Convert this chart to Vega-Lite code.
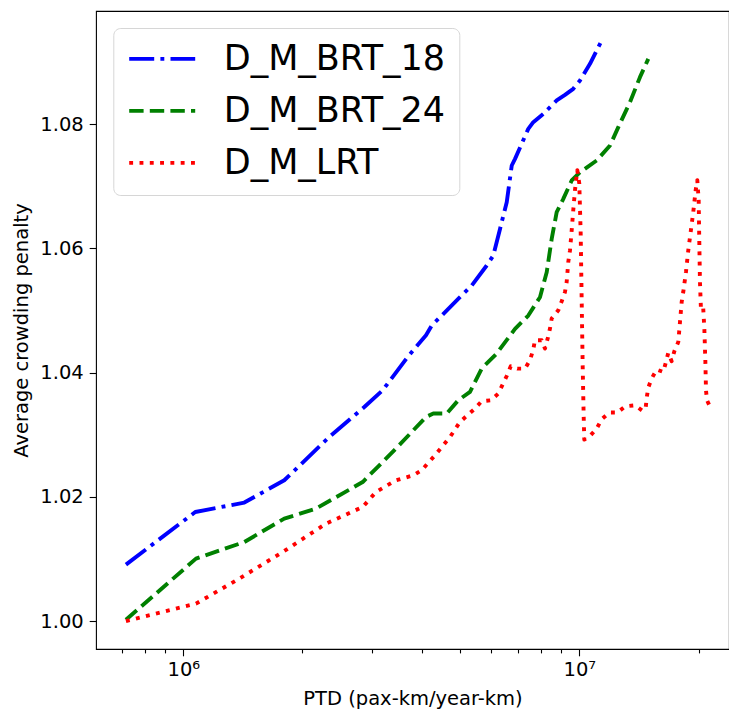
{
  "$schema": "https://vega.github.io/schema/vega-lite/v6.json",
  "width": 633,
  "height": 638,
  "autosize": "none",
  "padding": {"left": 96, "top": 11, "right": 0, "bottom": 68},
  "background": "white",
  "config": {
    "view": {"stroke": "black", "strokeWidth": 1.1},
    "font": "DejaVu Sans"
  },
  "data": {
    "values": [
      {"s": "D_M_BRT_18", "x": 716500, "y": 1.00908},
      {"s": "D_M_BRT_18", "x": 1072300, "y": 1.01755},
      {"s": "D_M_BRT_18", "x": 1425800, "y": 1.01907},
      {"s": "D_M_BRT_18", "x": 1799000, "y": 1.02266},
      {"s": "D_M_BRT_18", "x": 2337000, "y": 1.02963},
      {"s": "D_M_BRT_18", "x": 2865000, "y": 1.03446},
      {"s": "D_M_BRT_18", "x": 3188000, "y": 1.03715},
      {"s": "D_M_BRT_18", "x": 3686000, "y": 1.04251},
      {"s": "D_M_BRT_18", "x": 4101000, "y": 1.04601},
      {"s": "D_M_BRT_18", "x": 4239000, "y": 1.04757},
      {"s": "D_M_BRT_18", "x": 4996000, "y": 1.05213},
      {"s": "D_M_BRT_18", "x": 5350000, "y": 1.05401},
      {"s": "D_M_BRT_18", "x": 5837000, "y": 1.05723},
      {"s": "D_M_BRT_18", "x": 6066000, "y": 1.05884},
      {"s": "D_M_BRT_18", "x": 6307000, "y": 1.06312},
      {"s": "D_M_BRT_18", "x": 6558000, "y": 1.06742},
      {"s": "D_M_BRT_18", "x": 6752000, "y": 1.07333},
      {"s": "D_M_BRT_18", "x": 6882000, "y": 1.0744},
      {"s": "D_M_BRT_18", "x": 7433000, "y": 1.07923},
      {"s": "D_M_BRT_18", "x": 7652000, "y": 1.08031},
      {"s": "D_M_BRT_18", "x": 8111000, "y": 1.08164},
      {"s": "D_M_BRT_18", "x": 8768000, "y": 1.0838},
      {"s": "D_M_BRT_18", "x": 9202000, "y": 1.0847},
      {"s": "D_M_BRT_18", "x": 9656000, "y": 1.08567},
      {"s": "D_M_BRT_18", "x": 10041000, "y": 1.08702},
      {"s": "D_M_BRT_18", "x": 10642000, "y": 1.08969},
      {"s": "D_M_BRT_18", "x": 11390000, "y": 1.09346},
      {"s": "D_M_BRT_24", "x": 716500, "y": 1.0002},
      {"s": "D_M_BRT_24", "x": 853000, "y": 1.00441},
      {"s": "D_M_BRT_24", "x": 1076600, "y": 1.01005},
      {"s": "D_M_BRT_24", "x": 1425800, "y": 1.01272},
      {"s": "D_M_BRT_24", "x": 1799000, "y": 1.01649},
      {"s": "D_M_BRT_24", "x": 2163000, "y": 1.0181},
      {"s": "D_M_BRT_24", "x": 2838000, "y": 1.02238},
      {"s": "D_M_BRT_24", "x": 3444000, "y": 1.02776},
      {"s": "D_M_BRT_24", "x": 4101000, "y": 1.03285},
      {"s": "D_M_BRT_24", "x": 4279000, "y": 1.0334},
      {"s": "D_M_BRT_24", "x": 4626000, "y": 1.0334},
      {"s": "D_M_BRT_24", "x": 4947000, "y": 1.03554},
      {"s": "D_M_BRT_24", "x": 5297000, "y": 1.03688},
      {"s": "D_M_BRT_24", "x": 5669000, "y": 1.04064},
      {"s": "D_M_BRT_24", "x": 6185000, "y": 1.04306},
      {"s": "D_M_BRT_24", "x": 6882000, "y": 1.04702},
      {"s": "D_M_BRT_24", "x": 7433000, "y": 1.04918},
      {"s": "D_M_BRT_24", "x": 7957000, "y": 1.05213},
      {"s": "D_M_BRT_24", "x": 8274000, "y": 1.05615},
      {"s": "D_M_BRT_24", "x": 8517000, "y": 1.06151},
      {"s": "D_M_BRT_24", "x": 8768000, "y": 1.06581},
      {"s": "D_M_BRT_24", "x": 9112000, "y": 1.06795},
      {"s": "D_M_BRT_24", "x": 9568000, "y": 1.07092},
      {"s": "D_M_BRT_24", "x": 10041000, "y": 1.07225},
      {"s": "D_M_BRT_24", "x": 11064000, "y": 1.07414},
      {"s": "D_M_BRT_24", "x": 11957000, "y": 1.07655},
      {"s": "D_M_BRT_24", "x": 12547000, "y": 1.0795},
      {"s": "D_M_BRT_24", "x": 13428000, "y": 1.08353},
      {"s": "D_M_BRT_24", "x": 14230000, "y": 1.08755},
      {"s": "D_M_BRT_24", "x": 14935000, "y": 1.0905},
      {"s": "D_M_LRT", "x": 716500, "y": 1.0},
      {"s": "D_M_LRT", "x": 1076600, "y": 1.0028},
      {"s": "D_M_LRT", "x": 1385000, "y": 1.00683},
      {"s": "D_M_LRT", "x": 1782000, "y": 1.01111},
      {"s": "D_M_LRT", "x": 2293000, "y": 1.01568},
      {"s": "D_M_LRT", "x": 2838000, "y": 1.01836},
      {"s": "D_M_LRT", "x": 3066000, "y": 1.02077},
      {"s": "D_M_LRT", "x": 3444000, "y": 1.02266},
      {"s": "D_M_LRT", "x": 3809000, "y": 1.02346},
      {"s": "D_M_LRT", "x": 3999000, "y": 1.02427},
      {"s": "D_M_LRT", "x": 4321000, "y": 1.02668},
      {"s": "D_M_LRT", "x": 4716000, "y": 1.02963},
      {"s": "D_M_LRT", "x": 4996000, "y": 1.03205},
      {"s": "D_M_LRT", "x": 5452000, "y": 1.0342},
      {"s": "D_M_LRT", "x": 5669000, "y": 1.03538},
      {"s": "D_M_LRT", "x": 5984000, "y": 1.03554},
      {"s": "D_M_LRT", "x": 6245000, "y": 1.03662},
      {"s": "D_M_LRT", "x": 6558000, "y": 1.03945},
      {"s": "D_M_LRT", "x": 6712000, "y": 1.04101},
      {"s": "D_M_LRT", "x": 6972000, "y": 1.04064},
      {"s": "D_M_LRT", "x": 7292000, "y": 1.04064},
      {"s": "D_M_LRT", "x": 7506000, "y": 1.04198},
      {"s": "D_M_LRT", "x": 7652000, "y": 1.0437},
      {"s": "D_M_LRT", "x": 7727000, "y": 1.0452},
      {"s": "D_M_LRT", "x": 8036000, "y": 1.0452},
      {"s": "D_M_LRT", "x": 8192000, "y": 1.04386},
      {"s": "D_M_LRT", "x": 8321000, "y": 1.04547},
      {"s": "D_M_LRT", "x": 8433000, "y": 1.04709},
      {"s": "D_M_LRT", "x": 8517000, "y": 1.0487},
      {"s": "D_M_LRT", "x": 8851000, "y": 1.05003},
      {"s": "D_M_LRT", "x": 9028000, "y": 1.05148},
      {"s": "D_M_LRT", "x": 9202000, "y": 1.05298},
      {"s": "D_M_LRT", "x": 9293000, "y": 1.05459},
      {"s": "D_M_LRT", "x": 9380000, "y": 1.05781},
      {"s": "D_M_LRT", "x": 9474000, "y": 1.05969},
      {"s": "D_M_LRT", "x": 9568000, "y": 1.06291},
      {"s": "D_M_LRT", "x": 9656000, "y": 1.06614},
      {"s": "D_M_LRT", "x": 9752000, "y": 1.06936},
      {"s": "D_M_LRT", "x": 9884000, "y": 1.07258},
      {"s": "D_M_LRT", "x": 10000000, "y": 1.07044},
      {"s": "D_M_LRT", "x": 10081000, "y": 1.06243},
      {"s": "D_M_LRT", "x": 10140000, "y": 1.05164},
      {"s": "D_M_LRT", "x": 10200000, "y": 1.0409},
      {"s": "D_M_LRT", "x": 10259000, "y": 1.03285},
      {"s": "D_M_LRT", "x": 10295000, "y": 1.02921},
      {"s": "D_M_LRT", "x": 10642000, "y": 1.02979},
      {"s": "D_M_LRT", "x": 11064000, "y": 1.03098},
      {"s": "D_M_LRT", "x": 11390000, "y": 1.03248},
      {"s": "D_M_LRT", "x": 11906000, "y": 1.03356},
      {"s": "D_M_LRT", "x": 12474000, "y": 1.03356},
      {"s": "D_M_LRT", "x": 13069000, "y": 1.03457},
      {"s": "D_M_LRT", "x": 13826000, "y": 1.03473},
      {"s": "D_M_LRT", "x": 14457000, "y": 1.03382},
      {"s": "D_M_LRT", "x": 14712000, "y": 1.0343},
      {"s": "D_M_LRT", "x": 14797000, "y": 1.03591},
      {"s": "D_M_LRT", "x": 14935000, "y": 1.03758},
      {"s": "D_M_LRT", "x": 15232000, "y": 1.03903},
      {"s": "D_M_LRT", "x": 15682000, "y": 1.04048},
      {"s": "D_M_LRT", "x": 16293000, "y": 1.0401},
      {"s": "D_M_LRT", "x": 16550000, "y": 1.04171},
      {"s": "D_M_LRT", "x": 16773000, "y": 1.04316},
      {"s": "D_M_LRT", "x": 17109000, "y": 1.04182},
      {"s": "D_M_LRT", "x": 17378000, "y": 1.04343},
      {"s": "D_M_LRT", "x": 17783000, "y": 1.04493},
      {"s": "D_M_LRT", "x": 17959000, "y": 1.04815},
      {"s": "D_M_LRT", "x": 18138000, "y": 1.05137},
      {"s": "D_M_LRT", "x": 18306000, "y": 1.05298},
      {"s": "D_M_LRT", "x": 18594000, "y": 1.0562},
      {"s": "D_M_LRT", "x": 18847000, "y": 1.05969},
      {"s": "D_M_LRT", "x": 19111000, "y": 1.06264},
      {"s": "D_M_LRT", "x": 19403000, "y": 1.06586},
      {"s": "D_M_LRT", "x": 19674000, "y": 1.06936},
      {"s": "D_M_LRT", "x": 19860000, "y": 1.07097},
      {"s": "D_M_LRT", "x": 20020000, "y": 1.06775},
      {"s": "D_M_LRT", "x": 20090000, "y": 1.0613},
      {"s": "D_M_LRT", "x": 20170000, "y": 1.05459},
      {"s": "D_M_LRT", "x": 20290000, "y": 1.05003},
      {"s": "D_M_LRT", "x": 20560000, "y": 1.05031},
      {"s": "D_M_LRT", "x": 20690000, "y": 1.04709},
      {"s": "D_M_LRT", "x": 20810000, "y": 1.04198},
      {"s": "D_M_LRT", "x": 20890000, "y": 1.03715},
      {"s": "D_M_LRT", "x": 21010000, "y": 1.03554},
      {"s": "D_M_LRT", "x": 21300000, "y": 1.03473}
    ]
  },
  "mark": {"type": "line", "strokeWidth": 3.9, "strokeCap": "butt", "strokeJoin": "round", "clip": true},
  "encoding": {
    "x": {
      "field": "x", "type": "quantitative",
      "scale": {"type": "log", "domain": [602000, 23880000], "nice": false, "zero": false},
      "axis": {
        "title": "PTD (pax-km/year-km)",
        "values": [600000, 700000, 800000, 900000, 1000000, 2000000, 3000000, 4000000, 5000000, 6000000, 7000000, 8000000, 9000000, 10000000, 20000000],
        "labelExpr": "datum.value == 1000000 ? '10⁶' : (datum.value == 10000000 ? '10⁷' : '')",
        "tickSize": {"condition": {"test": "datum.value == 1000000 || datum.value == 10000000", "value": 6.8}, "value": 3.9},
        "tickColor": "black", "tickWidth": 1.1,
        "domain": false, "grid": false,
        "labelFont": "DejaVu Sans", "labelFontSize": 19.5, "labelColor": "black", "labelPadding": 5,
        "labelOverlap": false, "labelFlush": false,
        "titleFont": "DejaVu Sans", "titleFontSize": 19.5, "titleFontWeight": "normal", "titleColor": "black", "titlePadding": 10
      }
    },
    "y": {
      "field": "y", "type": "quantitative",
      "scale": {"domain": [0.9955, 1.0982], "nice": false, "zero": false},
      "axis": {
        "title": "Average crowding penalty",
        "values": [1.0, 1.02, 1.04, 1.06, 1.08],
        "format": ".2f",
        "tickSize": 6.8, "tickColor": "black", "tickWidth": 1.1,
        "domain": false, "grid": false,
        "labelFont": "DejaVu Sans", "labelFontSize": 19.5, "labelColor": "black", "labelPadding": 6,
        "titleFont": "DejaVu Sans", "titleFontSize": 19.5, "titleFontWeight": "normal", "titleColor": "black", "titlePadding": 8
      }
    },
    "color": {
      "field": "s", "type": "nominal",
      "scale": {"domain": ["D_M_BRT_18", "D_M_BRT_24", "D_M_LRT"], "range": ["#0000ff", "#008000", "#ff0000"]},
      "legend": {
        "title": null, "orient": "none", "legendX": 17.3, "legendY": 17,
        "symbolType": "M-2.2,0H2.2", "symbolSize": 900, "symbolStrokeWidth": 3.9, "symbolOffset": 18,
        "labelFont": "DejaVu Sans", "labelFontSize": 35, "labelColor": "black", "labelOffset": 44, "labelLimit": 400,
        "rowPadding": 16, "padding": 13.4,
        "fillColor": "white", "strokeColor": "#d6d6d6", "cornerRadius": 7
      }
    },
    "strokeDash": {
      "field": "s", "type": "nominal",
      "scale": {"domain": ["D_M_BRT_18", "D_M_BRT_24", "D_M_LRT"], "range": [[25, 6.2, 3.9, 6.2], [14.4, 6.2], [3.9, 6.4]]},
      "legend": {
        "title": null, "orient": "none", "legendX": 17.3, "legendY": 17,
        "symbolType": "M-2.2,0H2.2", "symbolSize": 900, "symbolStrokeWidth": 3.9, "symbolOffset": 18,
        "labelFont": "DejaVu Sans", "labelFontSize": 35, "labelColor": "black", "labelOffset": 44, "labelLimit": 400,
        "rowPadding": 16, "padding": 13.4,
        "fillColor": "white", "strokeColor": "#d6d6d6", "cornerRadius": 7
      }
    }
  }
}
